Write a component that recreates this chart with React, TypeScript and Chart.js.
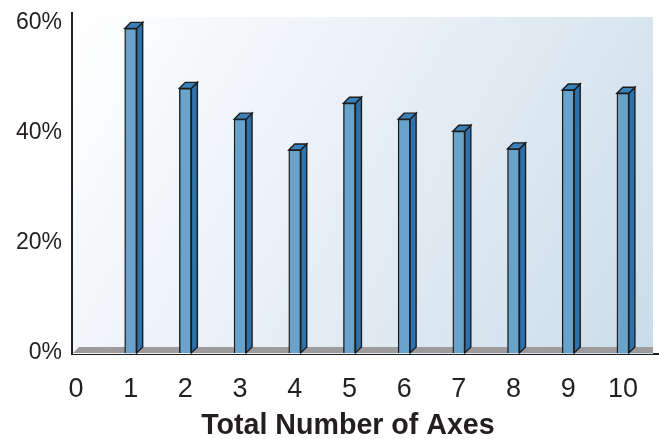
import React, { useEffect, useRef } from "react";
import { Chart, registerables } from "chart.js";

Chart.register(...registerables);

const categories = [1, 2, 3, 4, 5, 6, 7, 8, 9, 10];
const shares = [59.0, 48.1, 42.5, 36.9, 45.4, 42.5, 40.3, 37.1, 47.8, 47.2];
const xTicks = [0, 1, 2, 3, 4, 5, 6, 7, 8, 9, 10];
const yTicks = [0, 20, 40, 60];
const xTitle = "Total Number of Axes";

const FONT = '"Liberation Sans", Arial, Helvetica, sans-serif';
const INK = "#231f20";
const DEPTH = 6;

const decorPlugin = {
  id: "decor",
  beforeDatasetsDraw(chart: any) {
    const { ctx, chartArea } = chart;
    const { left, right, top, bottom } = chartArea;
    const r = right - DEPTH;
    ctx.save();
    const g = ctx.createLinearGradient(left, top, r, bottom);
    g.addColorStop(0, "#ffffff");
    g.addColorStop(0.5, "#e6eef5");
    g.addColorStop(1, "#cadcea");
    ctx.fillStyle = g;
    ctx.fillRect(left + 1, top + 4, r - left - 1, bottom - top - 4);
    // floor
    ctx.fillStyle = "#9d9b9c";
    ctx.beginPath();
    ctx.moveTo(left + 1, bottom - 1);
    ctx.lineTo(left + 1 + DEPTH, bottom - 1 - DEPTH);
    ctx.lineTo(r, bottom - 1 - DEPTH);
    ctx.lineTo(r, bottom - 1);
    ctx.closePath();
    ctx.fill();
    ctx.restore();
  },
  afterDatasetsDraw(chart: any) {
    const { ctx } = chart;
    const meta = chart.getDatasetMeta(0);
    ctx.save();
    ctx.lineWidth = 1.4;
    ctx.strokeStyle = "#1c1c1c";
    ctx.lineJoin = "miter";
    meta.data.forEach((el: any) => {
      const { x, y, base, width } = el.getProps(["x", "y", "base", "width"], true);
      const l = x - width / 2;
      const rr = x + width / 2;
      // side face
      ctx.fillStyle = "#2c72ad";
      ctx.beginPath();
      ctx.moveTo(rr, y);
      ctx.lineTo(rr + DEPTH, y - DEPTH);
      ctx.lineTo(rr + DEPTH, base - DEPTH);
      ctx.lineTo(rr, base);
      ctx.closePath();
      ctx.fill();
      ctx.stroke();
      // top face
      ctx.fillStyle = "#3b80b9";
      ctx.beginPath();
      ctx.moveTo(l, y);
      ctx.lineTo(l + DEPTH, y - DEPTH);
      ctx.lineTo(rr + DEPTH, y - DEPTH);
      ctx.lineTo(rr, y);
      ctx.closePath();
      ctx.fill();
      ctx.stroke();
    });
    ctx.restore();
  },
  afterDraw(chart: any) {
    const { ctx } = chart;
    const xs = chart.scales.x;
    ctx.save();
    ctx.font = `bold 28.6px ${FONT}`;
    ctx.fillStyle = INK;
    ctx.textAlign = "center";
    ctx.textBaseline = "alphabetic";
    ctx.fillText(xTitle, xs.getPixelForValue(5) - 1.5, 434);
    ctx.restore();
  },
};

export default function App() {
  const ref = useRef<HTMLCanvasElement | null>(null);

  useEffect(() => {
    if (!ref.current) return;
    const chart = new Chart(ref.current, {
      type: "bar",
      data: {
        datasets: [
          {
            data: categories.map((c, i) => ({ x: c, y: shares[i] })),
            backgroundColor: "#6aa3c9",
            borderColor: "#1c1c1c",
            borderWidth: 1.4,
            barThickness: 12,
          },
        ],
      },
      options: {
        animation: false,
        responsive: true,
        maintainAspectRatio: false,
        layout: { padding: { top: 13, right: 0, left: 0, bottom: 0 } },
        plugins: {
          legend: { display: false },
          tooltip: { enabled: false },
        },
        scales: {
          x: {
            type: "linear",
            min: -0.073,
            max: 10.66,
            offset: false,
            grid: { display: false, offset: false, drawTicks: false, tickLength: 0 },
            border: { display: true, color: INK, width: 2 },
            afterBuildTicks: (s: any) => {
              s.ticks = xTicks.map((v) => ({ value: v }));
            },
            afterFit: (s: any) => {
              s.height = 85;
              s.paddingLeft = 0;
              s.paddingRight = 0;
            },
            ticks: {
              autoSkip: false,
              maxRotation: 0,
              padding: 19,
              color: INK,
              font: { family: FONT, size: 27 },
              callback: (v: any) => String(v),
            },
          },
          y: {
            type: "linear",
            min: -0.2,
            max: 61.8,
            grid: { display: false, drawTicks: false, tickLength: 0 },
            border: { display: true, color: INK, width: 2 },
            afterBuildTicks: (s: any) => {
              s.ticks = yTicks.map((v) => ({ value: v }));
            },
            afterFit: (s: any) => {
              s.width = 72;
              s.paddingTop = 0;
              s.paddingBottom = 0;
            },
            ticks: {
              padding: 10,
              color: INK,
              font: { family: FONT, size: 23 },
              callback: (v: any) => `${v}%`,
            },
          },
        },
      },
      plugins: [decorPlugin],
    });
    return () => chart.destroy();
  }, []);

  return (
    <div
      style={{
        position: "fixed",
        left: 0,
        top: 0,
        width: 659,
        height: 439,
        background: "#ffffff",
      }}
    >
      <canvas ref={ref} style={{ width: "100%", height: "100%" }} />
    </div>
  );
}
